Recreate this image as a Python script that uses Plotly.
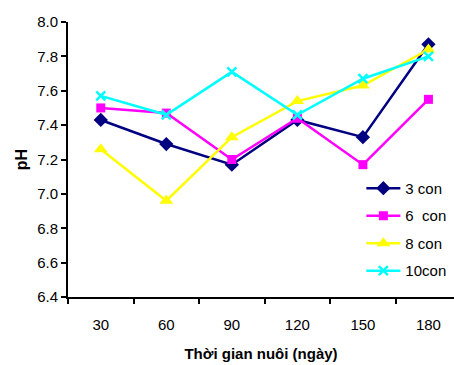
import plotly.graph_objects as go

days = ["30", "60", "90", "120", "150", "180"]
s3 = [7.43, 7.29, 7.17, 7.43, 7.33, 7.87]
s6 = [7.50, 7.47, 7.20, 7.44, 7.17, 7.55]
s8 = [7.26, 6.96, 7.33, 7.54, 7.63, 7.84]
s10 = [7.57, 7.46, 7.71, 7.46, 7.67, 7.80]
names = ["3 con", "6\u00a0\u00a0con", "8 con", "10con"]
series = [s3, s6, s8, s10]
colors = ["#000080", "#FF00FF", "#FFFF00", "#00FFFF"]
symbols = ["diamond", "square", "triangle-up", "x-thin"]
sizes = [11, 9, 12, 9]

fig = go.Figure()
for i, (nm, ys) in enumerate(zip(names, series)):
    mk = dict(symbol=symbols[i], size=sizes[i], color=colors[i])
    if symbols[i] == "x-thin":
        mk["line"] = dict(color=colors[i], width=2.5)
    fig.add_trace(go.Scatter(
        x=days, y=ys, name=nm, mode="lines+markers",
        line=dict(color=colors[i], width=2.5),
        marker=mk, legendgroup=str(i),
    ))

fig.update_layout(
    width=454, height=365,
    margin=dict(l=68, r=0, t=22, b=68),
    paper_bgcolor="white", plot_bgcolor="white",
    font=dict(family="Arial, Liberation Sans, sans-serif", size=15, color="black"),
    showlegend=True,
    legend=dict(x=0.76, y=0.455, xanchor="left", yanchor="top",
                bgcolor="rgba(0,0,0,0)", font=dict(size=15),
                tracegroupgap=5, traceorder="grouped", itemwidth=34),
    xaxis=dict(
        type="category", range=[-0.5, 5.39],
        showline=True, linecolor="black", linewidth=2,
        ticks="outside", ticklen=5, tickwidth=2, tickcolor="black",
        tickson="boundaries", showgrid=False, zeroline=False,
        ticklabelstandoff=13, tickfont=dict(size=15),
        title=dict(text="<b>Thời gian nuôi (ngày)</b>", font=dict(size=15), standoff=16),
    ),
    yaxis=dict(
        range=[6.4, 8.0], dtick=0.2, tickformat=".1f",
        showline=True, linecolor="black", linewidth=2,
        ticks="outside", ticklen=5, tickwidth=2, tickcolor="black",
        showgrid=False, zeroline=False, tickfont=dict(size=15),
        title=dict(text="<b>pH</b>", font=dict(size=16), standoff=6),
    ),
)

fig.write_html("out.html")
